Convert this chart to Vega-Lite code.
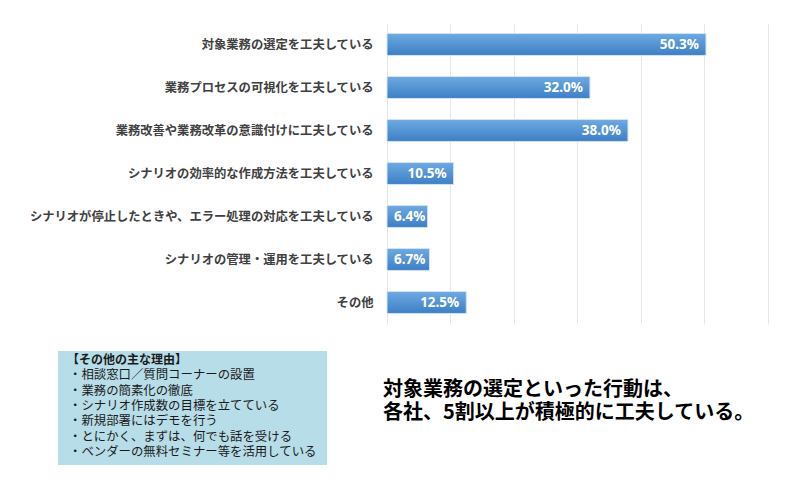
{
  "$schema": "https://vega.github.io/schema/vega-lite/v6.json",
  "padding": {"left": 28, "top": 23, "right": 5, "bottom": 5},
  "background": "white",
  "config": {"view": {"stroke": null}, "font": "Noto Sans CJK JP"},
  "columns": 2,
  "align": "each",
  "bounds": "flush",
  "spacing": {"row": 27, "column": 60},
  "concat": [
    {
      "width": 269,
      "height": 301,
      "data": {"values": [{"blank": ""}]},
      "mark": {"type": "text", "opacity": 0},
      "encoding": {"text": {"field": "blank", "type": "nominal"}}
    },
    {
      "width": 380.5,
      "height": 301,
      "data": {
        "values": [
          {"label": "対象業務の選定を工夫している", "share": 0.503},
          {"label": "業務プロセスの可視化を工夫している", "share": 0.32},
          {"label": "業務改善や業務改革の意識付けに工夫している", "share": 0.38},
          {"label": "シナリオの効率的な作成方法を工夫している", "share": 0.105},
          {"label": "シナリオが停止したときや、エラー処理の対応を工夫している", "share": 0.064},
          {"label": "シナリオの管理・運用を工夫している", "share": 0.067},
          {"label": "その他", "share": 0.125}
        ]
      },
      "encoding": {
        "y": {
          "field": "label",
          "type": "nominal",
          "scale": {
            "domain": [
              "対象業務の選定を工夫している",
              "業務プロセスの可視化を工夫している",
              "業務改善や業務改革の意識付けに工夫している",
              "シナリオの効率的な作成方法を工夫している",
              "シナリオが停止したときや、エラー処理の対応を工夫している",
              "シナリオの管理・運用を工夫している",
              "その他"
            ],
            "paddingInner": 0.49,
            "paddingOuter": 0.245
          },
          "axis": {
            "title": null,
            "ticks": false,
            "domain": false,
            "labelFontSize": 12.3,
            "labelFontWeight": "bold",
            "labelColor": "#404040",
            "labelFont": "Noto Sans CJK JP",
            "labelPadding": 14,
            "labelLimit": 420,
            "minExtent": 359
          }
        }
      },
      "layer": [
        {
          "mark": {
            "type": "bar",
            "color": {
              "gradient": "linear",
              "x1": 0, "y1": 0, "x2": 0, "y2": 1,
              "stops": [
                {"offset": 0, "color": "#6eaae2"},
                {"offset": 1, "color": "#3d7fc5"}
              ]
            },
            "stroke": "#d3e3f4",
            "strokeWidth": 1
          },
          "encoding": {
            "x": {
              "field": "share",
              "type": "quantitative",
              "scale": {"domain": [0, 0.6], "nice": false},
              "axis": {
                "title": null,
                "labels": false,
                "ticks": false,
                "domain": false,
                "grid": true,
                "gridColor": "#e3e7ec",
                "gridWidth": 1,
                "values": [0, 0.1, 0.2, 0.3, 0.4, 0.5, 0.6]
              }
            }
          }
        },
        {
          "transform": [{"filter": "datum.share >= 0.1"}],
          "mark": {
            "type": "text",
            "align": "right",
            "baseline": "middle",
            "dx": -7,
            "color": "white",
            "fontWeight": "bold",
            "fontSize": 13.5,
            "font": "Noto Sans"
          },
          "encoding": {
            "x": {"field": "share", "type": "quantitative"},
            "text": {"field": "share", "type": "quantitative", "format": ".1%"}
          }
        },
        {
          "transform": [{"filter": "datum.share < 0.1"}],
          "mark": {
            "type": "text",
            "align": "left",
            "baseline": "middle",
            "dx": 7,
            "color": "white",
            "fontWeight": "bold",
            "fontSize": 13.5,
            "font": "Noto Sans"
          },
          "encoding": {
            "x": {"datum": 0, "type": "quantitative"},
            "text": {"field": "share", "type": "quantitative", "format": ".1%"}
          }
        }
      ]
    },
    {
      "width": 269,
      "height": 114,
      "view": {"fill": "#b7dde8", "stroke": null},
      "data": {
        "values": [
          {"line": 0, "text": "【その他の主な理由】"},
          {"line": 1, "text": "・相談窓口／質問コーナーの設置"},
          {"line": 2, "text": "・業務の簡素化の徹底"},
          {"line": 3, "text": "・シナリオ作成数の目標を立てている"},
          {"line": 4, "text": "・新規部署にはデモを行う"},
          {"line": 5, "text": "・とにかく、まずは、何でも話を受ける"},
          {"line": 6, "text": "・ベンダーの無料セミナー等を活用している"}
        ]
      },
      "encoding": {
        "y": {
          "field": "line",
          "type": "ordinal",
          "scale": {"type": "point", "padding": 0.72, "align": 0.41},
          "axis": null
        },
        "x": {
          "datum": 0,
          "type": "quantitative",
          "scale": {"domain": [0, 1]},
          "axis": null
        },
        "text": {"field": "text", "type": "nominal"}
      },
      "layer": [
        {
          "transform": [{"filter": "datum.line == 0"}],
          "mark": {
            "type": "text",
            "align": "left",
            "baseline": "middle",
            "dx": 9,
            "fontSize": 12,
            "fontWeight": "bold",
            "color": "#1a1a1a"
          }
        },
        {
          "transform": [{"filter": "datum.line > 0"}],
          "mark": {
            "type": "text",
            "align": "left",
            "baseline": "middle",
            "dx": 11,
            "fontSize": 12.4,
            "color": "#1a1a1a"
          }
        }
      ]
    },
    {
      "width": 380,
      "height": 77.5,
      "data": {
        "values": [
          {"text": "対象業務の選定といった行動は、\n各社、5割以上が積極的に工夫している。"}
        ]
      },
      "mark": {
        "type": "text",
        "align": "left",
        "baseline": "middle",
        "lineBreak": "\n",
        "lineHeight": 23,
        "dx": -4,
        "fontSize": 20,
        "fontWeight": "bold",
        "color": "#000000"
      },
      "encoding": {
        "x": {
          "datum": 0,
          "type": "quantitative",
          "scale": {"domain": [0, 1]},
          "axis": null
        },
        "text": {"field": "text", "type": "nominal"}
      }
    }
  ]
}
